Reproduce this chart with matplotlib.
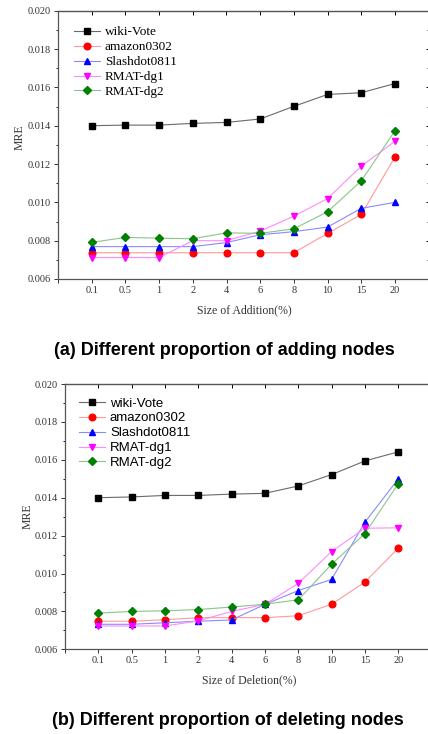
import numpy as np
import matplotlib
matplotlib.use("Agg")
import matplotlib.pyplot as plt
from matplotlib.ticker import MultipleLocator, FixedLocator

# category labels on the x axis
sizes = ['0.1', '0.5', '1', '2', '4', '6', '8', '10', '15', '20']
series_names = ['wiki-Vote', 'amazon0302', 'Slashdot0811', 'RMAT-dg1', 'RMAT-dg2']

# (a) adding nodes
add_wiki = [0.01400, 0.01403, 0.01403, 0.01412, 0.01417, 0.01435, 0.01501, 0.01563, 0.01572, 0.01620]
add_amazon = [0.00737, 0.00737, 0.00737, 0.00737, 0.00737, 0.00737, 0.00737, 0.00838, 0.00937, 0.01237]
add_slash = [0.00769, 0.00769, 0.00769, 0.00769, 0.00790, 0.00831, 0.00847, 0.00871, 0.00969, 0.01000]
add_dg1 = [0.00712, 0.00712, 0.00712, 0.00800, 0.00800, 0.00850, 0.00928, 0.01020, 0.01189, 0.01319]
add_dg2 = [0.00791, 0.00817, 0.00813, 0.00810, 0.00841, 0.00838, 0.00862, 0.00951, 0.01112, 0.01374]

# (b) deleting nodes
del_wiki = [0.01400, 0.01404, 0.01412, 0.01412, 0.01419, 0.01423, 0.01462, 0.01522, 0.01594, 0.01642]
del_amazon = [0.00748, 0.00748, 0.00756, 0.00767, 0.00767, 0.00767, 0.00777, 0.00838, 0.00955, 0.01134]
del_slash = [0.00732, 0.00732, 0.00740, 0.00748, 0.00755, 0.00837, 0.00910, 0.00969, 0.01271, 0.01499]
del_dg1 = [0.00723, 0.00723, 0.00723, 0.00750, 0.00800, 0.00837, 0.00948, 0.01116, 0.01239, 0.01241]
del_dg2 = [0.00791, 0.00800, 0.00803, 0.00810, 0.00823, 0.00838, 0.00861, 0.01049, 0.01211, 0.01474]

marker_colors = ['black', '#ff0000', '#0000ff', '#ff00ff', '#008000']
line_colors = ['#6a6a6a', '#ff9a9a', '#8a8aff', '#ff8aff', '#8ac48a']
markers = ['s', 'o', '^', 'v', 'D']
msizes = [4.2, 4.8, 5.0, 5.0, 4.0]

SERIF = 'Liberation Serif'
SANS = 'Liberation Sans'

fig = plt.figure(figsize=(4.28, 7.34), dpi=100)


def draw_panel(rect, data, xlabel, legend_font, label_y, leg_anchor):
    ax = fig.add_axes(rect)
    x = np.arange(len(sizes))
    for i, ys in enumerate(data):
        ax.plot(x, ys, color=line_colors[i], lw=0.8, marker=markers[i],
                ms=msizes[i], mfc=marker_colors[i], mec=marker_colors[i],
                label=series_names[i])
    ax.set_xlim(-1, 10)
    ax.set_ylim(0.006, 0.020)
    ax.xaxis.set_major_locator(FixedLocator(np.arange(-1, 10)))
    ax.set_xticklabels([''] + sizes)
    ax.yaxis.set_major_locator(MultipleLocator(0.002))
    ax.yaxis.set_minor_locator(MultipleLocator(0.001))
    ax.yaxis.set_major_formatter(matplotlib.ticker.FormatStrFormatter('%.3f'))
    ax.tick_params(axis='both', which='major', direction='out', length=3,
                   width=0.7, pad=2, labelsize=7.5, colors='#333333')
    ax.tick_params(axis='y', which='minor', direction='out', length=1.8, width=0.6)
    for lab in ax.get_xticklabels() + ax.get_yticklabels():
        lab.set_fontfamily(SERIF)
    for s in ax.spines.values():
        s.set_linewidth(0.9)
        s.set_color('#555555')

    top = ax.secondary_xaxis('top')
    top.xaxis.set_major_locator(FixedLocator(x))
    top.tick_params(direction='in', length=3, width=0.7, labeltop=False)
    right = ax.secondary_yaxis('right')
    right.yaxis.set_major_locator(MultipleLocator(0.002))
    right.yaxis.set_minor_locator(MultipleLocator(0.001))
    right.tick_params(which='major', direction='in', length=2.5, width=0.7, labelright=False)
    right.tick_params(which='minor', direction='in', length=1.5, width=0.6)

    ax.set_ylabel('MRE', fontfamily=SERIF, fontsize=8.5, color='#333333')
    ax.yaxis.set_label_coords(-0.103, label_y)
    ax.yaxis.label.set_va('center')
    ax.set_xlabel(xlabel, fontfamily=SERIF, fontsize=8.5, color='#333333')
    ax.xaxis.label.set_va('center')
    ax.xaxis.set_label_coords(0.502, -0.117)

    ax.legend(loc='upper left', bbox_to_anchor=leg_anchor, frameon=False,
              prop={'family': legend_font, 'size': 9.5}, handlelength=2.0,
              handletextpad=0.35, labelspacing=0.2, borderaxespad=0,
              borderpad=0)
    return ax


draw_panel([58 / 428, 1 - 279 / 734, 370.7 / 428, 268.3 / 734],
           [add_wiki, add_amazon, add_slash, add_dg1, add_dg2],
           'Size of Addition(%)', SERIF, 0.529, (0.043, 0.942))
draw_panel([65 / 428, 1 - 649.3 / 734, 366.6 / 428, 265.3 / 734],
           [del_wiki, del_amazon, del_slash, del_dg1, del_dg2],
           'Size of Deletion(%)', SANS, 0.502, (0.038, 0.950))

fig.text(224.5 / 428, 1 - 350 / 734, '(a) Different proportion of adding nodes',
         ha='center', va='center', fontfamily=SANS, fontweight='bold', fontsize=13)
fig.text(228 / 428, 1 - 720.7 / 734, '(b) Different proportion of deleting nodes',
         ha='center', va='center', fontfamily=SANS, fontweight='bold', fontsize=13)

fig.savefig('out.png', dpi=100)
